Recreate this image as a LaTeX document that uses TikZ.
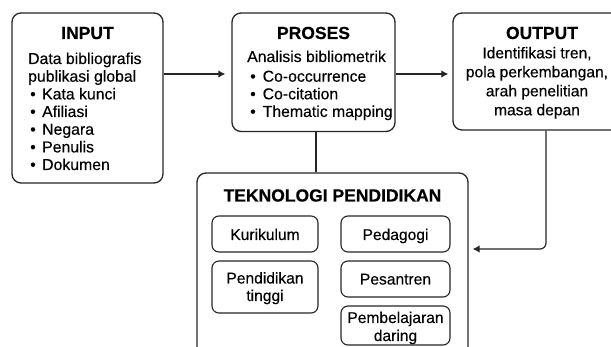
\documentclass[tikz,border=0pt]{standalone}
\usepackage{fontspec}
\setmainfont{Liberation Sans}[FakeBold=0.3]
\newfontfamily\titlefont{Liberation Sans}[FakeBold=0.4]
\usetikzlibrary{arrows.meta}
\begin{document}
\begin{tikzpicture}[x=1pt,y=-1pt,
  box/.style={draw=black!85, line width=1.3pt, rounded corners=9pt, inner sep=0pt},
  sbox/.style={draw=black!85, line width=1.1pt, rounded corners=7pt, inner sep=0pt},
  ttl/.style={font=\titlefont\fontsize{17.5}{20}\selectfont\bfseries, inner sep=0pt, anchor=base},
  txt/.style={font=\fontsize{15.8}{18}\selectfont, inner sep=0pt, anchor=base west},
  ctxt/.style={font=\fontsize{15.6}{18}\selectfont, inner sep=0pt, anchor=base},
  conn/.style={draw=black!85, line width=1.2pt},
  arr/.style={conn, -{Latex[length=7pt,width=7.5pt]}},
]
\useasboundingbox (0,0) rectangle (611,347);
\clip (0,0) rectangle (611,347);
\fill[white] (0,0) rectangle (611,347);

% boxes
\node[box, minimum width=151pt, minimum height=170pt] (input) at (87.5,98) {};
\node[box, minimum width=163pt, minimum height=118.5pt] (proses) at (313.5,72.25) {};
\node[box, minimum width=176pt, minimum height=117pt] (output) at (541,71.5) {};
\node[box, minimum width=271pt, minimum height=184pt] (tekno) at (332.5,265) {};

\node[sbox, minimum width=106pt, minimum height=36pt] (kur) at (265,234) {};
\node[sbox, minimum width=109pt, minimum height=36pt] (ped) at (395.5,234) {};
\node[sbox, minimum width=106pt, minimum height=52pt] (pt) at (265,287) {};
\node[sbox, minimum width=109pt, minimum height=36pt] (pes) at (395.5,279) {};
\node[sbox, minimum width=109pt, minimum height=39pt] (pd) at (395.5,325.5) {};

% INPUT text
\node[ttl] (tin) at (87.5,39) {INPUT};
\node[txt] (i1) at (28,64) {Data bibliografis};
\node[txt] (i2) at (28,81.7) {publikasi global};
\foreach \y/\t [count=\k] in {99.4/Kata kunci,117/Afiliasi,134.7/Negara,152.4/Penulis,170/Dokumen}
  \node[txt] (ib\k) at (30,\y) {\makebox[12pt][l]{•}\t};

% PROSES text
\node[ttl] (tpr) at (313.5,39) {PROSES};
\node[txt] (p1) at (247,62) {Analisis bibliometrik};
\foreach \y/\t [count=\k] in {81.7/Co-occurrence,99.3/Co-citation,116.9/Thematic mapping}
  \node[txt] (pb\k) at (250,\y) {\makebox[12.5pt][l]{•}\t};

% OUTPUT text
\node[ttl] (tout) at (542,39) {OUTPUT};
\foreach \y/\t [count=\k] in {58.3/{Identifikasi tren,},77.3/{pola perkembangan,},96.3/arah penelitian,115.3/masa depan}
  \node[ctxt] (o\k) at (537,\y) {\t};

% TEKNOLOGI text
\node[ttl] (ttek) at (332.5,201.5) {TEKNOLOGI PENDIDIKAN};
\node[ctxt] (tk) at (kur |- 0,240) {Kurikulum};
\node[ctxt] (tp) at (ped |- 0,240) {Pedagogi};
\node[ctxt] (tpt1) at (pt |- 0,283.5) {Pendidikan};
\node[ctxt] (tpt2) at (pt |- 0,301) {tinggi};
\node[ctxt] (tps) at (pes |- 0,284.5) {Pesantren};
\node[ctxt] (tpd1) at (pd |- 0,323) {Pembelajaran};
\node[ctxt] (tpd2) at (pd |- 0,341) {daring};

% connectors
\coordinate (lvl) at (0,74);
\coordinate (dropx) at (316,0);
\coordinate (outx) at (546,0);
\coordinate (lvl2) at (0,249);
\draw[arr, shorten >=6pt] (input.east |- lvl) -- (proses.west |- lvl);
\draw[arr, shorten >=4pt] (proses.east |- lvl) -- (output.west |- lvl);
\draw[conn] (dropx |- proses.south) -- (dropx |- tekno.north);
\draw[arr, shorten >=4pt, rounded corners=6pt] (outx |- output.south) -- (outx |- lvl2) -- (tekno.east |- lvl2);
\end{tikzpicture}
\end{document}
